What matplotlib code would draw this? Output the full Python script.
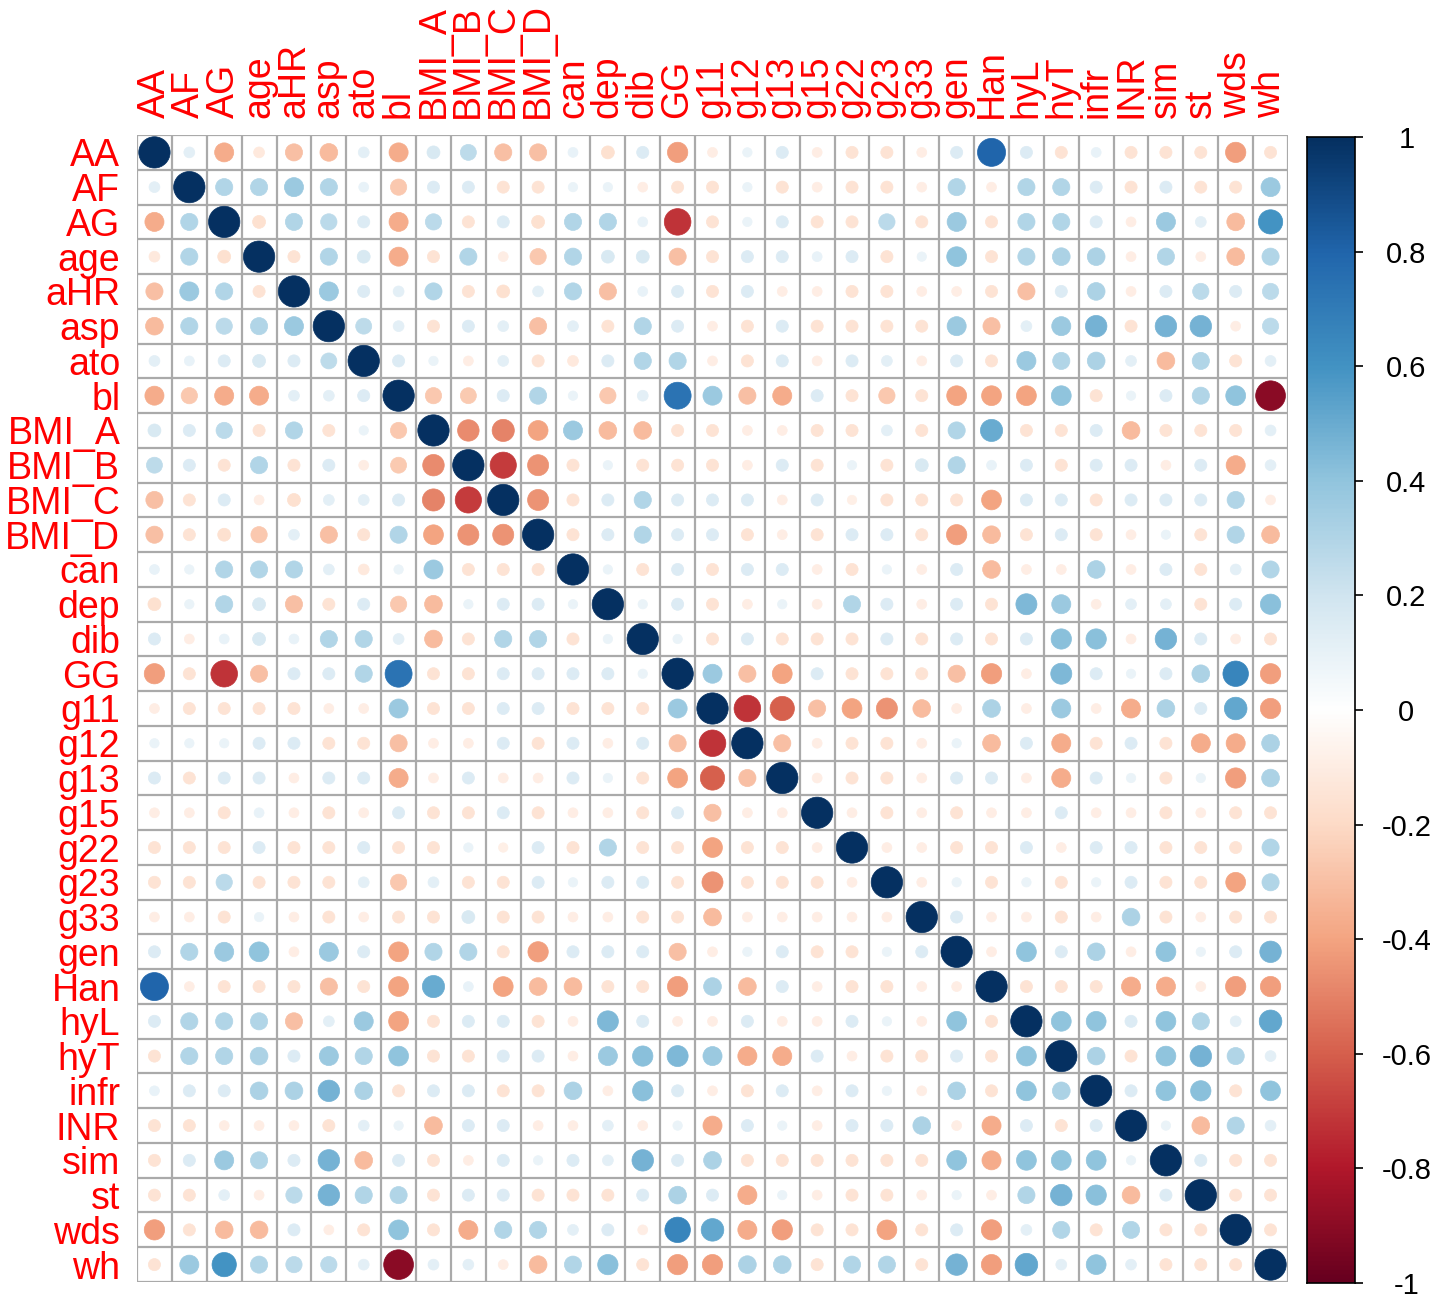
import numpy as np
import matplotlib.pyplot as plt
from matplotlib.colors import LinearSegmentedColormap
from matplotlib.patches import Circle

plt.rcParams['font.family'] = ['Liberation Sans', 'DejaVu Sans']

variables = ['AA', 'AF', 'AG', 'age', 'aHR', 'asp', 'ato', 'bl', 'BMI_A', 'BMI_B',
             'BMI_C', 'BMI_D', 'can', 'dep', 'dib', 'GG', 'g11', 'g12', 'g13', 'g15',
             'g22', 'g23', 'g33', 'gen', 'Han', 'hyL', 'hyT', 'infr', 'INR', 'sim',
             'st', 'wds', 'wh']

# upper triangle, row i holds correlations with variables i+1 .. end
upper_rows = [
    [0.12, -0.37, -0.12, -0.3, -0.32, 0.12, -0.37, 0.17, 0.26, -0.3, -0.3, 0.1, -0.17, 0.15, -0.42, -0.1,
     0.09, 0.15, -0.1, -0.15, -0.15, -0.1, 0.15, 0.8, 0.15, -0.15, 0.1, -0.15, -0.15, -0.15, -0.42, -0.15],
    [0.3, 0.3, 0.37, 0.3, 0.1, -0.27, 0.15, 0.15, -0.15, -0.15, 0.09, 0.09, -0.1, -0.15, -0.15, 0.09,
     -0.15, -0.1, -0.15, -0.15, -0.1, 0.3, -0.1, 0.3, 0.3, 0.15, -0.15, 0.15, -0.15, -0.15, 0.37],
    [-0.17, 0.3, 0.27, 0.15, -0.37, 0.27, -0.15, 0.15, -0.17, 0.3, 0.3, 0.1, -0.72, -0.15, 0.09,
     0.15, -0.15, -0.15, 0.27, -0.15, 0.37, -0.15, 0.3, 0.3, 0.15, -0.1, 0.37, 0.12, -0.32, 0.6],
    [-0.15, 0.3, 0.17, -0.37, -0.15, 0.3, -0.1, -0.27, 0.3, 0.17, 0.17, -0.3, -0.15, 0.15, 0.15,
     0.1, 0.15, -0.15, 0.09, 0.4, -0.15, 0.3, 0.32, 0.32, -0.1, 0.3, -0.1, -0.32, 0.3],
    [0.37, 0.15, 0.12, 0.3, -0.15, -0.17, 0.12, 0.3, -0.3, 0.1, 0.15, -0.15, 0.15, -0.1, -0.1,
     -0.15, -0.15, -0.1, -0.1, -0.15, -0.3, 0.15, 0.32, -0.1, 0.15, 0.27, 0.15, 0.27],
    [0.26, 0.12, -0.15, 0.15, 0.12, -0.3, 0.12, -0.15, 0.3, 0.15, -0.1, -0.15, 0.15, -0.15, -0.15,
     -0.15, -0.15, 0.37, -0.3, 0.12, 0.37, 0.47, -0.15, 0.47, 0.47, -0.1, 0.27],
    [0.15, 0.09, -0.1, 0.12, -0.15, -0.12, 0.15, 0.3, 0.3, -0.1, -0.15, 0.15, -0.1, 0.15, 0.12,
     -0.1, 0.15, -0.15, 0.37, 0.3, 0.32, 0.12, -0.32, 0.3, -0.15, 0.12],
    [-0.27, -0.26, 0.15, 0.3, 0.09, -0.27, 0.12, 0.74, 0.37, -0.3, -0.37, 0.15, -0.15, -0.27,
     -0.15, -0.4, -0.4, -0.4, 0.4, -0.15, 0.09, 0.15, 0.3, 0.4, -0.9],
    [-0.47, -0.5, -0.4, 0.37, -0.32, -0.32, -0.15, -0.15, -0.1, -0.1, -0.15, -0.15, 0.12,
     -0.15, 0.3, 0.5, -0.15, -0.15, 0.15, -0.32, -0.15, -0.15, -0.15, 0.12],
    [-0.7, -0.45, -0.15, 0.09, -0.15, -0.15, -0.15, -0.1, 0.15, -0.15, 0.09, -0.15,
     0.17, 0.3, 0.1, 0.15, -0.15, 0.15, 0.15, -0.1, 0.15, -0.37, 0.12],
    [-0.45, -0.15, 0.15, 0.3, 0.15, 0.15, 0.15, -0.1, 0.15, -0.09, -0.15,
     -0.15, -0.15, -0.4, 0.15, 0.15, -0.15, 0.15, 0.15, 0.15, 0.3, -0.1],
    [-0.15, 0.15, 0.3, 0.15, 0.15, -0.15, -0.1, -0.15, 0.15, 0.15,
     -0.15, -0.42, -0.32, -0.15, 0.15, -0.15, -0.1, 0.09, -0.15, 0.3, -0.32],
    [0.09, -0.15, 0.15, -0.15, 0.15, 0.15, -0.1, -0.15, 0.09,
     -0.1, 0.15, -0.32, -0.1, -0.1, 0.32, -0.1, 0.15, -0.15, 0.12, 0.3],
    [0.09, 0.15, -0.15, -0.1, 0.09, -0.1, 0.3, 0.15,
     -0.1, 0.15, -0.15, 0.45, 0.37, -0.1, 0.12, 0.12, -0.15, 0.15, 0.42],
    [0.09, -0.15, 0.15, -0.15, -0.15, -0.15, 0.15,
     -0.15, 0.15, -0.15, 0.15, 0.42, 0.42, -0.1, 0.47, 0.15, -0.1, -0.15],
    [0.37, -0.3, -0.4, 0.15, -0.15, -0.15,
     -0.15, -0.3, -0.42, -0.1, 0.45, 0.15, 0.09, 0.15, 0.32, 0.66, -0.42],
    [-0.72, -0.6, -0.3, -0.4, -0.45,
     -0.32, -0.1, 0.32, -0.1, 0.37, -0.1, -0.37, 0.32, 0.15, 0.52, -0.42],
    [-0.3, -0.1, -0.15, -0.15,
     -0.1, 0.09, -0.32, 0.15, -0.37, -0.15, 0.15, -0.15, -0.37, -0.37, 0.32],
    [-0.1, -0.15, -0.15,
     -0.1, 0.15, 0.15, -0.1, -0.37, 0.15, 0.09, -0.15, 0.09, -0.42, 0.32],
    [-0.1, -0.15,
     -0.1, -0.15, -0.1, -0.1, 0.15, -0.1, -0.1, -0.15, -0.1, -0.15, -0.15],
    [-0.1,
     -0.1, -0.15, -0.15, 0.15, -0.1, 0.15, 0.15, -0.15, -0.15, -0.15, 0.3],
    [-0.1, 0.09, -0.15, 0.09, -0.15, 0.09, 0.15, -0.15, -0.15, -0.4, 0.3],
    [0.15, -0.1, -0.1, -0.15, -0.1, 0.32, -0.15, -0.1, -0.15, -0.15],
    [-0.1, 0.4, 0.15, 0.32, -0.1, 0.4, 0.09, 0.15, 0.47],
    [-0.15, -0.15, -0.15, -0.37, -0.37, -0.1, -0.42, -0.42],
    [0.4, 0.4, 0.15, 0.4, 0.3, 0.12, 0.52],
    [0.32, -0.15, 0.4, 0.47, 0.3, 0.12],
    [0.15, 0.4, 0.42, -0.15, 0.4],
    [0.09, -0.32, 0.3, 0.12],
    [0.15, -0.15, -0.15],
    [-0.15, -0.15],
    [-0.15],
]

cbar_ticks = [1, 0.8, 0.6, 0.4, 0.2, 0, -0.2, -0.4, -0.6, -0.8, -1]
cbar_labels = ['1', '0.8', '0.6', '0.4', '0.2', '0', '-0.2', '-0.4', '-0.6', '-0.8', '-1']

n = len(variables)
corr = np.eye(n)
for i, row in enumerate(upper_rows):
    for k, v in enumerate(row):
        j = i + 1 + k
        corr[i, j] = v
        corr[j, i] = v

cmap = LinearSegmentedColormap.from_list('RdBu_corr', [
    '#67001F', '#B2182B', '#D6604D', '#F4A582', '#FDDBC7', '#FFFFFF',
    '#D1E5F0', '#92C5DE', '#4393C3', '#2166AC', '#053061'])

fig = plt.figure(figsize=(14.5, 13), dpi=100)
ax = fig.add_axes([137 / 1450, 18 / 1300, 1151 / 1450, 1147 / 1300])
ax.set_xlim(-0.5, n - 0.5)
ax.set_ylim(n - 0.5, -0.5)

for k in range(n + 1):
    ax.axhline(k - 0.5, color='#aaaaaa', lw=1.6, zorder=1)
    ax.axvline(k - 0.5, color='#aaaaaa', lw=1.6, zorder=1)

for i in range(n):
    for j in range(n):
        r = corr[i, j]
        col = cmap((r + 1) / 2)
        ax.add_patch(Circle((j, i), 0.45 * np.sqrt(abs(r)), facecolor=col,
                            edgecolor=col, lw=0.5, zorder=2))

for s in ax.spines.values():
    s.set_visible(False)

ax.set_xticks(range(n))
ax.set_xticklabels(variables, rotation=90, color='red', fontsize=27)
ax.set_yticks(range(n))
ax.set_yticklabels(variables, color='red', fontsize=27)
ax.xaxis.tick_top()
ax.tick_params(length=0, pad=12)

# colour legend
cax = fig.add_axes([1307 / 1450, 17 / 1300, 48 / 1450, 1146 / 1300])
grad = np.linspace(-1, 1, 512).reshape(-1, 1)
cax.imshow(grad, aspect='auto', cmap=cmap, origin='lower', extent=[0, 1, -1, 1])
cax.set_xticks([])
cax.yaxis.tick_right()
cax.set_yticks(cbar_ticks)
cax.set_yticklabels(cbar_labels, fontsize=21, ha='center')
cax.tick_params(axis='y', length=6, width=1.2, pad=31)
for s in cax.spines.values():
    s.set_linewidth(1.2)

fig.savefig('out.png', dpi=100, facecolor='white')
